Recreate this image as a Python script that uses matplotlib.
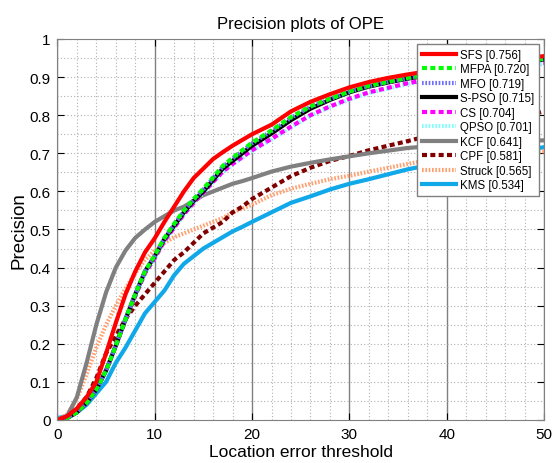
import matplotlib

matplotlib.use("Agg")

import matplotlib.pyplot as plt
from matplotlib.ticker import MultipleLocator

plt.rcParams["font.family"] = ["Liberation Sans", "DejaVu Sans"]

thr = [0, 1, 2, 3, 4, 5, 6, 7, 8, 9, 10, 11, 12, 13, 14, 15, 16, 17, 18, 19,
       20, 22, 24, 26, 28, 30, 32, 34, 36, 38, 40, 42, 45, 48, 50]

sfs = [0.0, 0.01, 0.03, 0.06, 0.10, 0.175, 0.255, 0.33, 0.39, 0.44, 0.477, 0.52,
       0.56, 0.60, 0.635, 0.66, 0.685, 0.703, 0.72, 0.735, 0.75, 0.775, 0.81,
       0.835, 0.855, 0.873, 0.887, 0.898, 0.907, 0.915, 0.922, 0.93, 0.94, 0.95, 0.955]
mfpa = [0.0, 0.005, 0.02, 0.045, 0.08, 0.13, 0.195, 0.265, 0.33, 0.39, 0.432,
        0.478, 0.515, 0.55, 0.58, 0.607, 0.637, 0.667, 0.688, 0.708, 0.728,
        0.76, 0.795, 0.823, 0.843, 0.862, 0.877, 0.888, 0.898, 0.906, 0.913,
        0.92, 0.93, 0.942, 0.948]
mfo = [0.0, 0.005, 0.02, 0.045, 0.08, 0.13, 0.195, 0.265, 0.33, 0.39, 0.431,
       0.477, 0.513, 0.548, 0.578, 0.605, 0.635, 0.665, 0.686, 0.706, 0.726,
       0.758, 0.793, 0.822, 0.842, 0.861, 0.876, 0.887, 0.897, 0.905, 0.912,
       0.919, 0.929, 0.941, 0.947]
spso = [0.0, 0.005, 0.02, 0.045, 0.08, 0.13, 0.195, 0.265, 0.33, 0.39, 0.43,
        0.475, 0.51, 0.545, 0.575, 0.60, 0.63, 0.66, 0.68, 0.70, 0.72, 0.752,
        0.787, 0.817, 0.84, 0.86, 0.875, 0.886, 0.896, 0.904, 0.911, 0.918,
        0.928, 0.94, 0.946]
cs = [0.0, 0.005, 0.02, 0.045, 0.08, 0.13, 0.195, 0.262, 0.325, 0.385, 0.425,
      0.47, 0.505, 0.54, 0.57, 0.597, 0.625, 0.652, 0.672, 0.69, 0.708, 0.738,
      0.77, 0.80, 0.823, 0.843, 0.86, 0.872, 0.884, 0.893, 0.90, 0.908, 0.918,
      0.93, 0.937]
qpso = [0.0, 0.005, 0.02, 0.045, 0.08, 0.13, 0.195, 0.262, 0.325, 0.385, 0.424,
        0.469, 0.504, 0.539, 0.569, 0.596, 0.623, 0.65, 0.67, 0.688, 0.706,
        0.736, 0.768, 0.798, 0.821, 0.841, 0.858, 0.87, 0.882, 0.891, 0.898,
        0.906, 0.916, 0.928, 0.935]
kcf = [0.0, 0.01, 0.06, 0.15, 0.25, 0.335, 0.40, 0.445, 0.478, 0.50, 0.52,
       0.535, 0.55, 0.56, 0.575, 0.59, 0.60, 0.61, 0.62, 0.627, 0.635, 0.652,
       0.665, 0.675, 0.684, 0.692, 0.70, 0.707, 0.714, 0.718, 0.721, 0.724,
       0.728, 0.732, 0.734]
cpf = [0.0, 0.01, 0.03, 0.06, 0.11, 0.175, 0.22, 0.265, 0.30, 0.33, 0.36, 0.39,
       0.42, 0.44, 0.465, 0.49, 0.505, 0.52, 0.545, 0.56, 0.58, 0.61, 0.64,
       0.662, 0.68, 0.693, 0.708, 0.72, 0.732, 0.745, 0.755, 0.765, 0.78, 0.798,
       0.81]
struck = [0.0, 0.015, 0.055, 0.12, 0.19, 0.25, 0.30, 0.345, 0.385, 0.42, 0.445,
          0.465, 0.48, 0.49, 0.50, 0.51, 0.52, 0.53, 0.545, 0.555, 0.565, 0.59,
          0.607, 0.62, 0.632, 0.641, 0.652, 0.662, 0.672, 0.682, 0.688, 0.692,
          0.697, 0.702, 0.705]
kms = [0.005, 0.01, 0.02, 0.04, 0.07, 0.10, 0.15, 0.19, 0.235, 0.28, 0.31, 0.34,
       0.38, 0.41, 0.43, 0.45, 0.465, 0.48, 0.495, 0.507, 0.52, 0.545, 0.57,
       0.587, 0.605, 0.62, 0.632, 0.645, 0.658, 0.668, 0.676, 0.684, 0.696,
       0.708, 0.716]

names = ["SFS [0.756]", "MFPA [0.720]", "MFO [0.719]", "S-PSO [0.715]",
         "CS [0.704]", "QPSO [0.701]", "KCF [0.641]", "CPF [0.581]",
         "Struck [0.565]", "KMS [0.534]"]

styles = [
    ("#ff0000", "-", 3.0),
    ("#00ff00", (0, (1.2, 0.8)), 3.0),
    ("#6f6fff", (0, (0.4, 0.4)), 3.0),
    ("#000000", "-", 3.0),
    ("#ff00ff", (0, (1.2, 0.8)), 3.0),
    ("#80ffff", (0, (0.4, 0.4)), 3.0),
    ("#808080", "-", 3.0),
    ("#800000", (0, (1.2, 0.8)), 3.0),
    ("#ffa070", (0, (0.4, 0.4)), 3.0),
    ("#10a8e8", "-", 3.0),
]

series = [sfs, mfpa, mfo, spso, cs, qpso, kcf, cpf, struck, kms]

fig = plt.figure(figsize=(5.52, 4.64), dpi=100)
ax = fig.add_axes([0.104, 0.0927, 0.8815, 0.8211])

# draw back to front so SFS ends on top
for vals, name, (col, ls, lw) in reversed(list(zip(series, names, styles))):
    ax.plot(thr, vals, color=col, linestyle=ls, linewidth=lw, label=name)

ax.set_xlim(0, 50)
ax.set_ylim(0, 1)
ax.xaxis.set_major_locator(MultipleLocator(10))
ax.xaxis.set_minor_locator(MultipleLocator(2))
ax.yaxis.set_minor_locator(MultipleLocator(0.05))
ax.set_yticks([i / 10 for i in range(11)])
ax.set_yticklabels(["0", "0.1", "0.2", "0.3", "0.4", "0.5", "0.6", "0.7",
                    "0.8", "0.9", "1"])

ax.grid(True, which="major", axis="x", color="#808080", linestyle="-", linewidth=1.0)
ax.grid(True, which="minor", axis="x", color="#b0b0b0", linestyle=(0, (1, 2)), linewidth=0.8)
ax.grid(True, which="both", axis="y", color="#b0b0b0", linestyle=(0, (1, 2)), linewidth=0.8)
ax.set_axisbelow(True)

ax.tick_params(which="major", direction="in", length=5, top=True, right=True,
               labelsize=11, pad=5)
ax.tick_params(which="minor", length=0)
for sp in ax.spines.values():
    sp.set_color("#808080")

ax.set_title("Precision plots of OPE", fontsize=12, pad=8)
ax.set_xlabel("Location error threshold", fontsize=12.5, labelpad=2)
ax.set_ylabel("Precision", fontsize=13.5, labelpad=1)

handles, labels = ax.get_legend_handles_labels()
leg = ax.legend(handles[::-1], labels[::-1], loc="upper right",
                bbox_to_anchor=(1, 1), fontsize=8.3, fancybox=False,
                framealpha=1, edgecolor="#808080", handlelength=3.0,
                handletextpad=0.35, labelspacing=0.22, borderpad=0.4,
                borderaxespad=0.43)
leg.get_frame().set_linewidth(1.0)

fig.savefig("out.png", dpi=100)
